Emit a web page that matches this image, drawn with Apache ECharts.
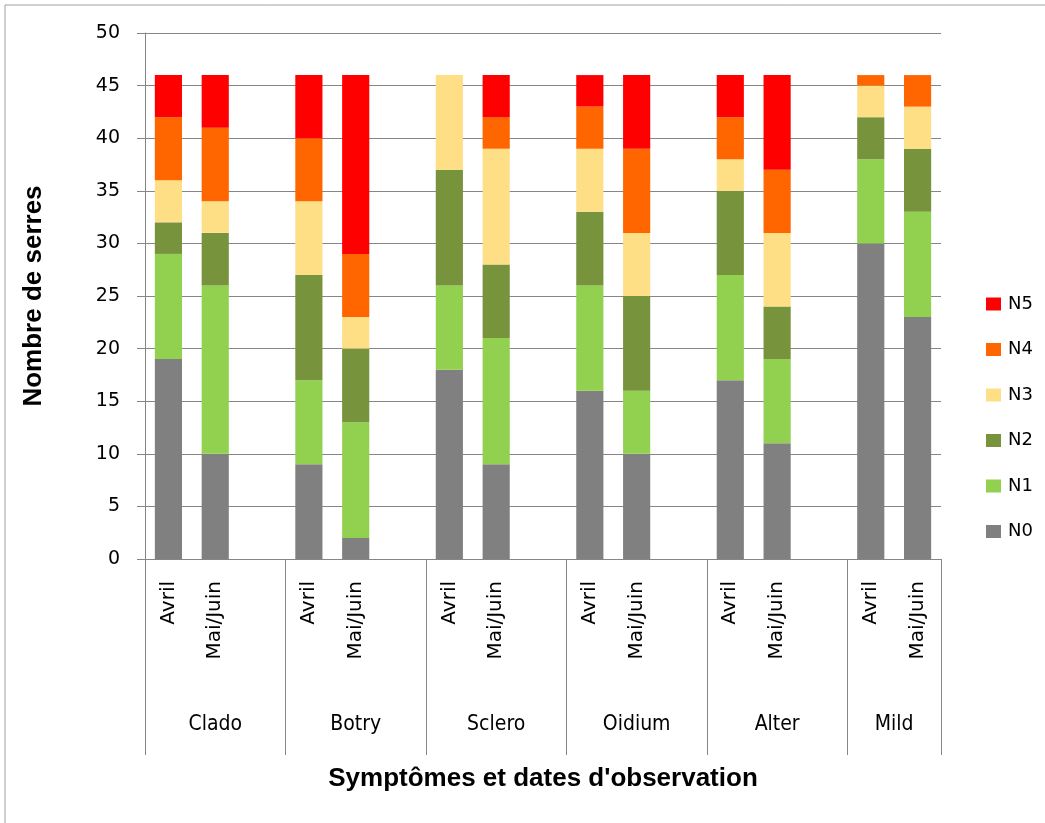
<!DOCTYPE html>
<html>
<head>
<meta charset="utf-8">
<script src="https://cdn.jsdelivr.net/npm/echarts@6/dist/echarts.min.js"></script>
<style>
html,body{margin:0;padding:0;background:#fff;}
#c{width:1045px;height:823px;}
</style>
</head>
<body>
<div id="c"></div>
<script>
// 17 slots: 5 groups of (Avril, Mai/Juin, blank) + Mild (Avril, Mai/Juin)
const groups = ['Clado', 'Botry', 'Sclero', 'Oidium', 'Alter', 'Mild'];
const periods = ['Avril', 'Mai/Juin'];
const categories = ['Avril','Mai/Juin','', 'Avril','Mai/Juin','', 'Avril','Mai/Juin','', 'Avril','Mai/Juin','', 'Avril','Mai/Juin','', 'Avril','Mai/Juin'];
const yTicks = [0, 5, 10, 15, 20, 25, 30, 35, 40, 45, 50];
// values per slot (blank slots = null)
const N0 = [19, 10, null, 9, 2, null, 18, 9, null, 16, 10, null, 17, 11, null, 30, 23];
const N1 = [10, 16, null, 8, 11, null, 8, 12, null, 10, 6, null, 10, 8, null, 8, 10];
const N2 = [3, 5, null, 10, 7, null, 11, 7, null, 7, 9, null, 8, 5, null, 4, 6];
const N3 = [4, 3, null, 7, 3, null, 9, 11, null, 6, 6, null, 3, 7, null, 3, 4];
const N4 = [6, 7, null, 6, 6, null, 0, 3, null, 4, 8, null, 4, 6, null, 1, 3];
const N5 = [4, 5, null, 6, 17, null, 0, 4, null, 3, 7, null, 4, 9, null, 0, 0];
// group boundaries and centers (in slot units)
const groupBounds = [-0.5, 2.5, 5.5, 8.5, 11.5, 14.5, 16.5];
const groupCenters = [1, 4, 7, 10, 13, 15.5];

const seriesDefs = [
  {name: 'N0', data: N0, color: '#808080'},
  {name: 'N1', data: N1, color: '#92D050'},
  {name: 'N2', data: N2, color: '#77933C'},
  {name: 'N3', data: N3, color: '#FEDF85'},
  {name: 'N4', data: N4, color: '#FF6600'},
  {name: 'N5', data: N5, color: '#FF0000'}
];

const chart = echarts.init(document.getElementById('c'), null, {renderer: 'canvas'});
const grayLine = '#868686';
chart.setOption({
  animation: false,
  backgroundColor: '#fff',
  graphic: [{
    type: 'rect', shape: {x: 5, y: 5, width: 1200, height: 1000},
    style: {fill: 'none', stroke: '#a0a0a0', lineWidth: 1}, silent: true
  }],
  legend: {
    orient: 'vertical', left: 981, top: 290,
    data: ['N5', 'N4', 'N3', 'N2', 'N1', 'N0'],
    itemWidth: 15, itemHeight: 13, itemGap: 27.5,
    icon: 'rect',
    textStyle: {fontFamily: 'DejaVu Sans', fontSize: 18, color: '#000', padding: [0, 0, 0, 2]}
  },
  grid: {left: 145, top: 33, right: 104, bottom: 264, containLabel: false},
  xAxis: [{
    type: 'category', data: categories, position: 'bottom',
    axisLine: {show: true, onZero: false, lineStyle: {color: grayLine, width: 1}},
    axisTick: {show: false},
    axisLabel: {rotate: 90, interval: 0, margin: 22, fontFamily: 'DejaVu Sans', fontSize: 20, color: '#000'}
  }, {
    type: 'value', position: 'bottom', min: -0.5, max: 16.5,
    name: "Symptômes et dates d'observation", nameLocation: 'middle', nameGap: 207,
    nameTextStyle: {fontFamily: 'Liberation Sans', fontWeight: 'bold', fontSize: 26, color: '#000'},
    axisLine: {show: false, onZero: false},
    splitLine: {show: false},
    axisTick: {show: true, customValues: groupBounds, length: 196, lineStyle: {color: grayLine, width: 1}},
    axisLabel: {
      customValues: groupCenters, margin: 155,
      fontFamily: 'Liberation Sans Narrow, DejaVu Sans Condensed, sans-serif', fontSize: 21, color: '#000',
      formatter: function (v) { const i = groupCenters.indexOf(v); return i >= 0 ? groups[i] : ''; }
    }
  }],
  yAxis: {
    type: 'value', min: 0, max: 50, interval: 5,
    name: 'Nombre de serres', nameLocation: 'middle', nameGap: 98, nameRotate: 90,
    nameTextStyle: {fontFamily: 'Liberation Sans', fontWeight: 'bold', fontSize: 26, color: '#000'},
    axisLine: {show: true, onZero: false, lineStyle: {color: grayLine, width: 1}},
    axisTick: {show: true, length: 8, lineStyle: {color: grayLine}},
    axisLabel: {margin: 25, fontFamily: 'DejaVu Sans', fontSize: 19, color: '#000',
      formatter: function (v) { return yTicks.indexOf(v) >= 0 ? String(v) : ''; }},
    splitLine: {show: true, lineStyle: {color: grayLine, width: 1}}
  },
  series: seriesDefs.map(s => ({
    name: s.name, type: 'bar', stack: 'total', data: s.data,
    xAxisIndex: 0, barWidth: '58%',
    itemStyle: {color: s.color}
  }))
});
</script>
</body>
</html>
